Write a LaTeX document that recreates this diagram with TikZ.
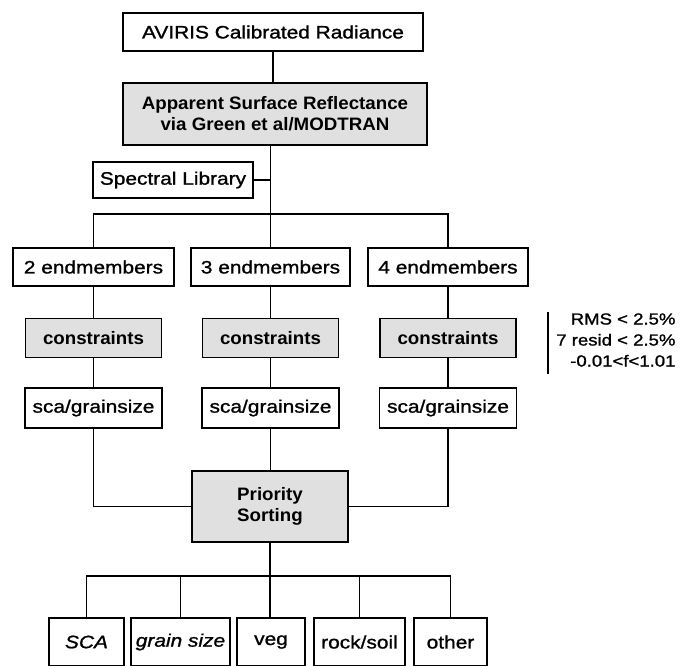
\documentclass[tikz,border=0pt]{standalone}
\usepackage{fontspec}
\setmainfont{Liberation Sans}[FakeStretch=1.16, FakeBold=1.2]
\newfontfamily\headfont{Liberation Sans}[FakeStretch=1.04]
\usetikzlibrary{positioning}
\definecolor{stipple}{HTML}{E0E0E0}
\tikzset{
  stage/.style={draw=black, line width=1.9pt, fill=white, inner sep=0pt,
                minimum height=38pt, align=center, font=\fontsize{18}{21}\selectfont},
  shadedstage/.style={stage, fill=stipple, font=\fontsize{18}{21}\selectfont\headfont\bfseries},
  leaf/.style={stage, minimum height=48pt},
  slanted/.style={font=\fontsize{18}{21}\selectfont\itshape},
  link/.style={line width=1.5pt},
}
\begin{document}
\begin{tikzpicture}[x=1pt, y=-1pt]
\useasboundingbox (0,0) rectangle (698,665);
\clip (0,0) rectangle (698,665);
% top of the chain
\node[stage, minimum width=300pt] (radiance) at (273,32) {AVIRIS Calibrated Radiance};
\node[shadedstage, minimum width=304pt, minimum height=62pt] (reflect) at (275,114)
  {Apparent Surface Reflectance\\via Green et al/MODTRAN};
\node[stage, minimum width=160pt, minimum height=36pt] (library) at (173,180) {Spectral Library};
% three unmixing branches
\foreach \i/\x/\w/\n in {1/93.5/161/2, 2/270.5/159/3, 3/448/160/4}{
  \node[stage, minimum width=\w pt] (end\i) at (\x,267) {\n\ endmembers};
  \node[shadedstage, minimum width=136pt, minimum height=39pt] (con\i) at (\x,338) {constraints};
  \node[stage, minimum width=137pt, minimum height=40pt] (sca\i) at (\x,408) {sca/grainsize};
  \draw[link] (end\i) -- (con\i) -- (sca\i);
}
\node[shadedstage, minimum width=156pt, minimum height=71pt] (priority) at (270,506.5) {Priority\\Sorting};
% outputs
\node[leaf, slanted, minimum width=75pt] (scaout) at (86.5,642) {SCA};
\node[leaf, slanted, minimum width=99pt] (grain) at (180.5,642) {grain size};
\node[leaf, minimum width=68pt] (veg) at (271,642) {veg};
\node[leaf, minimum width=91pt] (rock) at (359.5,642) {rock/soil};
\node[leaf, minimum width=73pt] (other) at (450.5,642) {other};
% acceptance criteria
\node[anchor=east, align=right, font=\fontsize{16}{21}\selectfont] (criteria) at (679,340)
  {RMS < 2.5\%\\7 resid < 2.5\%\\-0.01<f<1.01};
\coordinate (critTop) at (548,312);
\coordinate (critBot) at (548,374);
\draw[line width=1.6pt] (critTop) -- (critBot);
% connectors
\coordinate (split) at (270.5,214);
\coordinate (merge) at (270,576);
\draw[link] (radiance.south) -- (radiance.south |- reflect.north);
\draw[link] (reflect.south -| end2.north) -- (end2.north);
\draw[link] (library.east) -- (library.east -| end2.north);
\draw[link] (end1.north) |- (split) -| (end3.north);
\draw[link] (sca2.south) -- (sca2.south |- priority.north);
\draw[link] (sca1.south) |- (priority.west);
\draw[link] (sca3.south) |- (priority.east);
\draw[link] (priority.south) -- (priority.south |- veg.north);
\draw[link] (scaout.north) |- (merge) -| (other.north);
\draw[link] (grain.north) -- (grain.north |- merge);
\draw[link] (rock.north) -- (rock.north |- merge);
\end{tikzpicture}
\end{document}
